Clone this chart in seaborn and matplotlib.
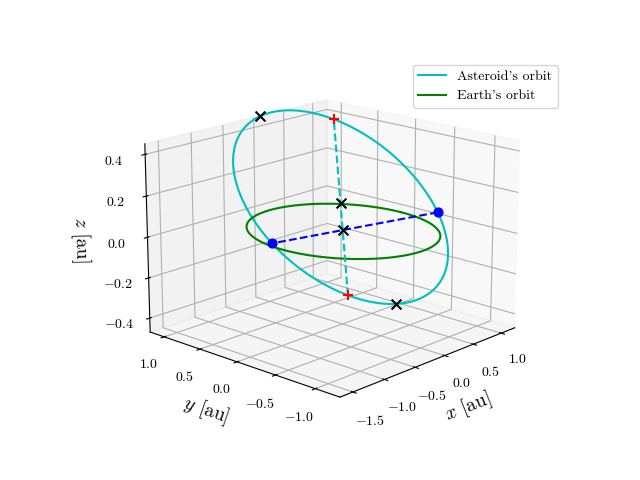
import numpy as np
import matplotlib
matplotlib.use('Agg')
import matplotlib.pyplot as plt
import seaborn as sns

sns.reset_orig()
plt.rcParams['font.family'] = 'serif'
plt.rcParams['font.serif'] = ['cmr10']
plt.rcParams['mathtext.fontset'] = 'cm'
plt.rcParams['axes.formatter.use_mathtext'] = True
plt.rcParams['axes.unicode_minus'] = True

# orbital elements (approx)
a_ast = 1.2
e_ast = 0.3
inc_deg = 17.0
node_deg = -12.0
peri_deg = 235.0
earth_r = 1.0

x_ticks = [-1.5, -1.0, -0.5, 0.0, 0.5, 1.0]
y_ticks = [-1.0, -0.5, 0.0, 0.5, 1.0]
z_ticks = [-0.4, -0.2, 0.0, 0.2, 0.4]


def orbit_pos(nu):
    i, O, w = np.radians([inc_deg, node_deg, peri_deg])
    r = a_ast * (1 - e_ast**2) / (1 + e_ast * np.cos(nu))
    u = w + nu
    x = r * (np.cos(O) * np.cos(u) - np.sin(O) * np.sin(u) * np.cos(i))
    y = r * (np.sin(O) * np.cos(u) + np.cos(O) * np.sin(u) * np.cos(i))
    z = r * np.sin(u) * np.sin(i)
    return np.array([x, y, z])


nu = np.linspace(0, 2 * np.pi, 400)
ax_x, ax_y, ax_z = orbit_pos(nu)
th = np.linspace(0, 2 * np.pi, 400)

fig = plt.figure(figsize=(6.4, 4.8), dpi=100)
ax = fig.add_subplot(projection='3d')
ax.plot(ax_x, ax_y, ax_z, color='c', label="Asteroid's orbit")
ax.plot(earth_r * np.cos(th), earth_r * np.sin(th), 0 * th, color='g', label="Earth's orbit")

# nodes
w = np.radians(peri_deg)
n1 = orbit_pos(-w)
n2 = orbit_pos(np.pi - w)
ax.plot(*np.c_[n1, n2], 'b--')
ax.scatter(*np.c_[n1, n2], color='b', s=40, depthshade=False)

# peri / aphelion and extreme z
p = orbit_pos(0.0)
q = orbit_pos(np.pi)
top = orbit_pos(np.pi / 2 - w)
bot = orbit_pos(-np.pi / 2 - w)
ax.plot(*np.c_[p, q], 'c--')
ax.scatter(*np.c_[p, q], color='r', marker='+', s=60, depthshade=False)
ax.scatter(*np.c_[top, bot, (p + q) / 2, [0, 0, 0]], color='k', marker='x', s=50, depthshade=False)

ax.set_xlim(-1.7, 1.25)
ax.set_ylim(-1.3, 1.2)
ax.set_zlim(-0.47, 0.45)
ax.set_box_aspect(None, zoom=1.1)
ax.set_xticks(x_ticks)
ax.set_yticks(y_ticks)
ax.set_zticks(z_ticks)
ax.set_xlabel('$x$ [au]', fontsize=14)
ax.set_ylabel('$y$ [au]', fontsize=14)
ax.set_zlabel('$z$ [au]', fontsize=14)
ax.view_init(elev=17, azim=-137)
ax.legend(loc='upper right', bbox_to_anchor=(1.14, 1.0))
plt.savefig('out.png')
